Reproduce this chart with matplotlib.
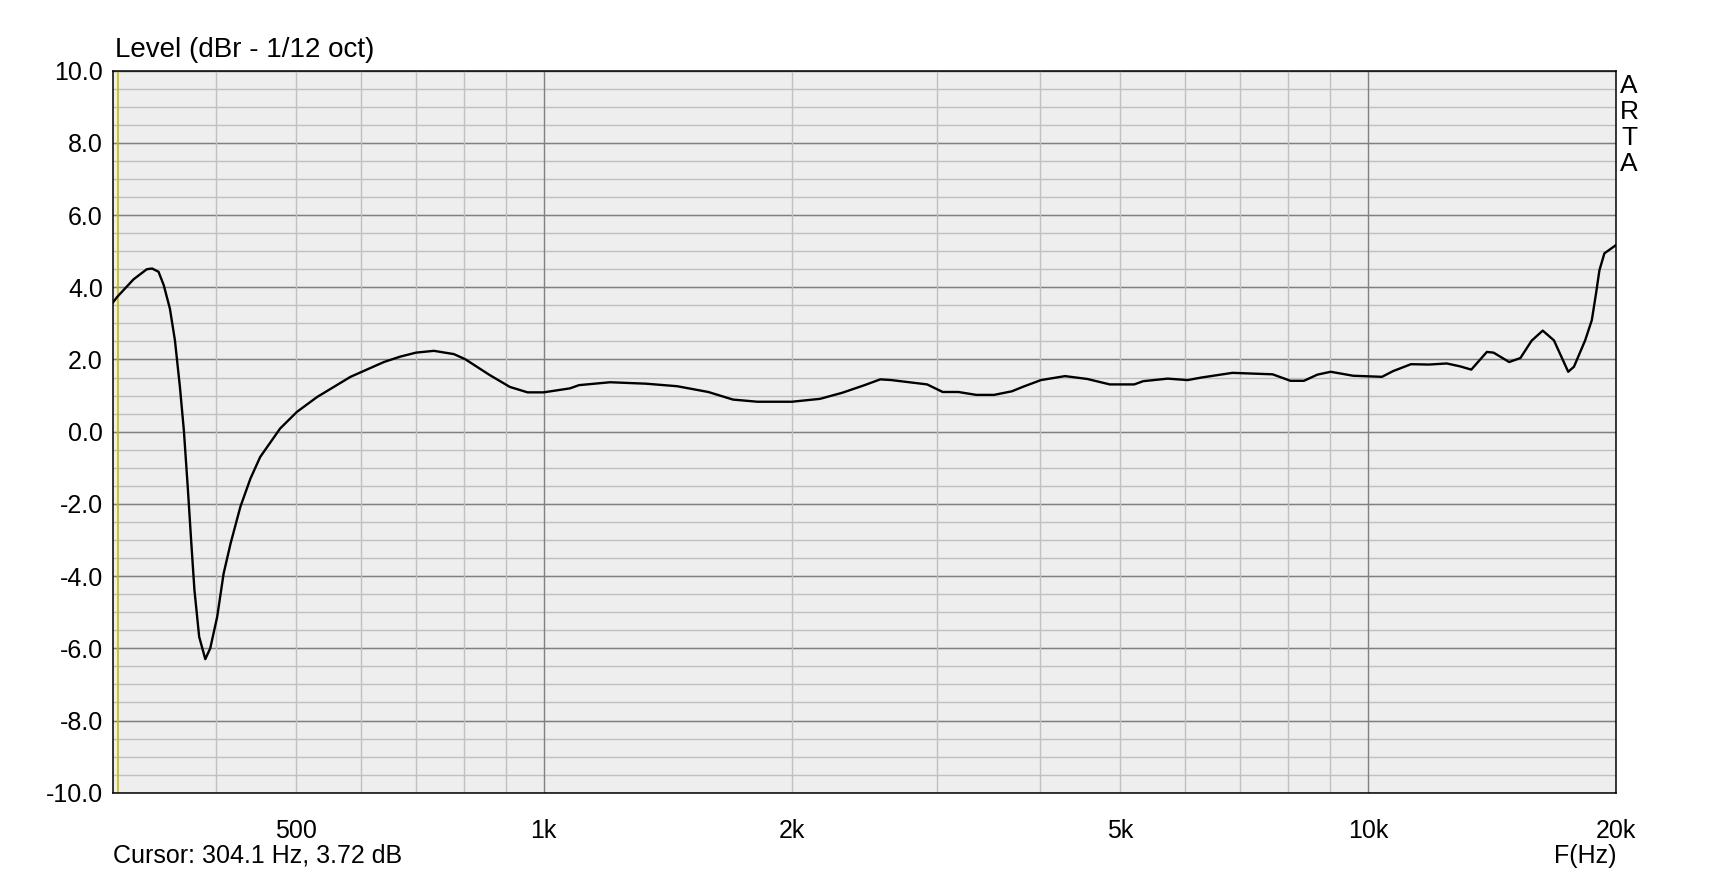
import matplotlib
matplotlib.use('Agg')
import matplotlib.pyplot as plt
import numpy as np

plt.rcParams['font.family'] = ['Liberation Sans', 'DejaVu Sans']

# response (Hz, dBr)
freq = [300, 304, 318, 330, 335, 341, 346, 352, 357, 362, 366, 370, 373.5, 377,
        382, 388.6, 394, 401.7, 409, 417, 428.6, 440.8, 453, 479, 502, 531, 583,
        640, 670, 700, 736, 778, 803, 860, 910, 956, 1000, 1076, 1104, 1204, 1331,
        1452, 1584, 1697, 1817, 2000, 2164, 2304, 2451, 2561, 2642, 2919, 3049,
        3185, 3348, 3520, 3700, 3811, 4012, 4291, 4567, 4863, 5206, 5339, 5716,
        6045, 6279, 6848, 7662, 8055, 8364, 8682, 9014, 9594, 10401, 10732, 11280,
        11858, 12466, 12937, 13349, 13942, 14206, 14838, 15311, 15798, 16297,
        16815, 17500, 17783, 18347, 18692, 18914, 19093, 19360, 20000]
level = [3.57, 3.74, 4.22, 4.50, 4.52, 4.43, 4.06, 3.41, 2.53, 1.24, 0.04, -1.53,
         -3.0, -4.39, -5.68, -6.30, -6.0, -5.13, -3.93, -3.10, -2.08, -1.30, -0.70,
         0.09, 0.55, 0.96, 1.52, 1.93, 2.08, 2.19, 2.24, 2.15, 2.01, 1.57, 1.24,
         1.09, 1.09, 1.20, 1.29, 1.37, 1.33, 1.26, 1.10, 0.89, 0.83, 0.83, 0.91,
         1.08, 1.29, 1.45, 1.43, 1.31, 1.10, 1.10, 1.02, 1.02, 1.12, 1.24, 1.43,
         1.54, 1.46, 1.31, 1.31, 1.40, 1.47, 1.43, 1.50, 1.63, 1.59, 1.41, 1.41,
         1.58, 1.66, 1.55, 1.52, 1.68, 1.87, 1.86, 1.89, 1.81, 1.72, 2.21, 2.19,
         1.93, 2.04, 2.52, 2.80, 2.53, 1.66, 1.80, 2.53, 3.09, 3.83, 4.47, 4.94,
         5.17]

x_ticks = [500, 1000, 2000, 5000, 10000, 20000]
x_labels = ['500', '1k', '2k', '5k', '10k', '20k']
x_major_grid = [1000, 10000]
x_minor_grid = [400, 500, 600, 700, 800, 900, 2000, 3000, 4000, 5000, 6000,
                7000, 8000, 9000]
y_ticks = np.arange(-10, 10.1, 2)
y_minor = np.arange(-10, 10.1, 0.5)
cursor_f = 304.1
cursor_db = 3.72

fig = plt.figure(figsize=(17.28, 8.77), dpi=100)
ax = fig.add_axes([0.0652, 0.0961, 0.870, 0.8233])
ax.set_facecolor('#eeeeee')
ax.set_xscale('log')
ax.set_xlim(300, 20000)
ax.set_ylim(-10, 10)

for y in y_minor:
    ax.axhline(y, color='#c0c0c0', lw=1.0, zorder=1)
for y in y_ticks:
    ax.axhline(y, color='#808080', lw=1.0, zorder=1)
for x in x_minor_grid:
    ax.axvline(x, color='#c0c0c0', lw=1.0, zorder=1)
for x in x_major_grid:
    ax.axvline(x, color='#808080', lw=1.0, zorder=1)

# cursor line
ax.axvline(cursor_f, color='#c8bc00', lw=1.2, zorder=2)

ax.plot(freq, level, color='black', lw=1.7, zorder=3)

ax.set_xticks(x_ticks)
ax.set_xticklabels(x_labels)
ax.xaxis.set_minor_locator(matplotlib.ticker.NullLocator())
ax.set_yticks(y_ticks)
ax.set_yticklabels(['%.1f' % v for v in y_ticks])
ax.tick_params(axis='both', length=0, labelsize=18)
ax.tick_params(axis='x', pad=19)
ax.tick_params(axis='y', pad=7)
for s in ax.spines.values():
    s.set_linewidth(1.1)
    s.set_color('black')

fig.text(0.0664, 0.9347, 'Level (dBr - 1/12 oct)', fontsize=20, va='baseline')
fig.text(0.0654, 1 - 863 / 877, 'Cursor: %.1f Hz, %.2f dB' % (cursor_f, cursor_db),
         fontsize=18, va='baseline')
fig.text(0.9355, 1 - 863 / 877, 'F(Hz)', fontsize=18, va='baseline', ha='right')

for i, ch in enumerate('ARTA'):
    fig.text(1629 / 1728, 1 - (93 + 26 * i) / 877, ch, fontsize=19,
             va='baseline', ha='center')

fig.savefig('out.png', dpi=100)
